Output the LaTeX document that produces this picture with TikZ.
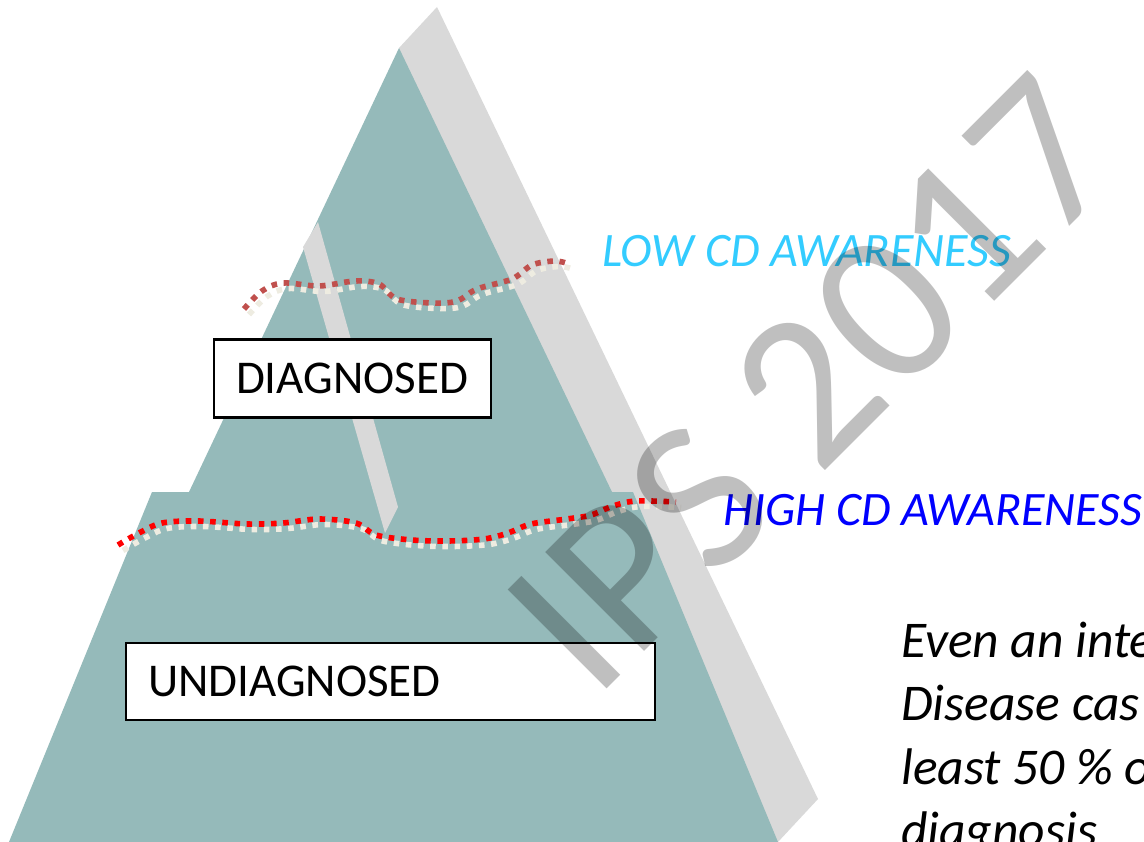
\documentclass[tikz,border=0pt]{standalone}
\usepackage{fontspec}
\setmainfont{Carlito}
\definecolor{pyrteal}{HTML}{95BABA}
\definecolor{bandgrey}{HTML}{D9D9D9}
\definecolor{lowred}{HTML}{C0504D}
\definecolor{cream}{HTML}{EEECE1}
\definecolor{lowcyan}{HTML}{33CCFF}
\definecolor{highblue}{HTML}{0000FF}
\begin{document}
\begin{tikzpicture}[x=1pt,y=-1pt,
  boxst/.style={draw=black, line width=2.3pt, fill=white, align=left, inner ysep=0pt,
    font=\fontsize{47}{56}\selectfont},
  dotline/.style={line width=5.6pt, dash pattern=on 5.6pt off 6.6pt},
  awaretext/.style={anchor=base west, inner sep=0pt, font=\itshape\fontsize{48}{56}\selectfont},
  paratext/.style={anchor=base west, inner sep=0pt, font=\itshape\fontsize{51.5}{60}\selectfont},
  wmark/.style={anchor=base west, inner sep=0pt, rotate=45, text=black, text opacity=0.25,
    font=\fontsize{218}{218}\selectfont}]
\useasboundingbox (0,0) rectangle (1144,842);
\clip (0,0) rectangle (1144,842);
\fill[white] (0,0) rectangle (1144,842);
% shadow band
\fill[bandgrey] (399,48) -- (437,7) -- (818,799) -- (778,842) -- (500,842) -- cycle;
% pyramid
\fill[pyrteal] (399,48) -- (612,492) -- (633,492) -- (778,842) -- (9,842) -- (152,492) -- (189,492) -- cycle;
% inner light strip
\fill[bandgrey] (303,247) -- (318,222) -- (398,507) -- (385,533) -- cycle;
% low awareness line
\draw[dotline, draw=cream, shift={(5,5.5)}] plot[smooth, tension=0.55] coordinates {
  (244,309) (262,291) (283,283) (319,286) (355,281) (379,284) (397,299) (433,303)
  (457,301) (477,289) (512,279) (532,265) (554,261) (566,263)};
\draw[dotline, draw=lowred] plot[smooth, tension=0.55] coordinates {
  (244,309) (262,291) (283,283) (319,286) (355,281) (379,284) (397,299) (433,303)
  (457,301) (477,289) (512,279) (532,265) (554,261) (566,263)};
% high awareness line
\draw[dotline, draw=cream, shift={(5,5.5)}] plot[smooth, tension=0.55] coordinates {
  (118,545) (139,533) (162,523) (198,521) (247,524) (283,523) (319,519) (356,523)
  (376,535) (412,540) (448,541) (484,539) (508,533) (531,524) (567,519) (591,515)
  (613,506) (636,501) (676,502)};
\draw[dotline, draw=red] plot[smooth, tension=0.55] coordinates {
  (118,545) (139,533) (162,523) (198,521) (247,524) (283,523) (319,519) (356,523)
  (376,535) (412,540) (448,541) (484,539) (508,533) (531,524) (567,519) (591,515)
  (613,506) (636,501) (676,502)};
% boxes
\node[boxst, minimum height=78pt, text width=233pt, inner xsep=22pt] (diag) at (352.5,378.5) {DIAGNOSED};
\node[boxst, minimum height=77pt, text width=485pt, inner xsep=22pt] (undiag) at (390.5,681.5) {UNDIAGNOSED};
% awareness labels
\node[awaretext, text=lowcyan] (low) at (602,267) {LOW CD AWARENESS};
\node[awaretext, text=highblue] (high) at (723,525) {HIGH CD AWARENESS};
% paragraph
\node[paratext] (p1) at (901,657) {Even an inte};
\node[paratext] (p2) at (901,720.5) {Disease cas};
\node[paratext] (p3) at (901,784) {least 50 \% o};
\node[paratext] (p4) at (901,847.5) {diagnosis};
% watermark
\node[wmark] (wm) at (594.6,701.4) {IPS 2017};
\end{tikzpicture}
\end{document}
